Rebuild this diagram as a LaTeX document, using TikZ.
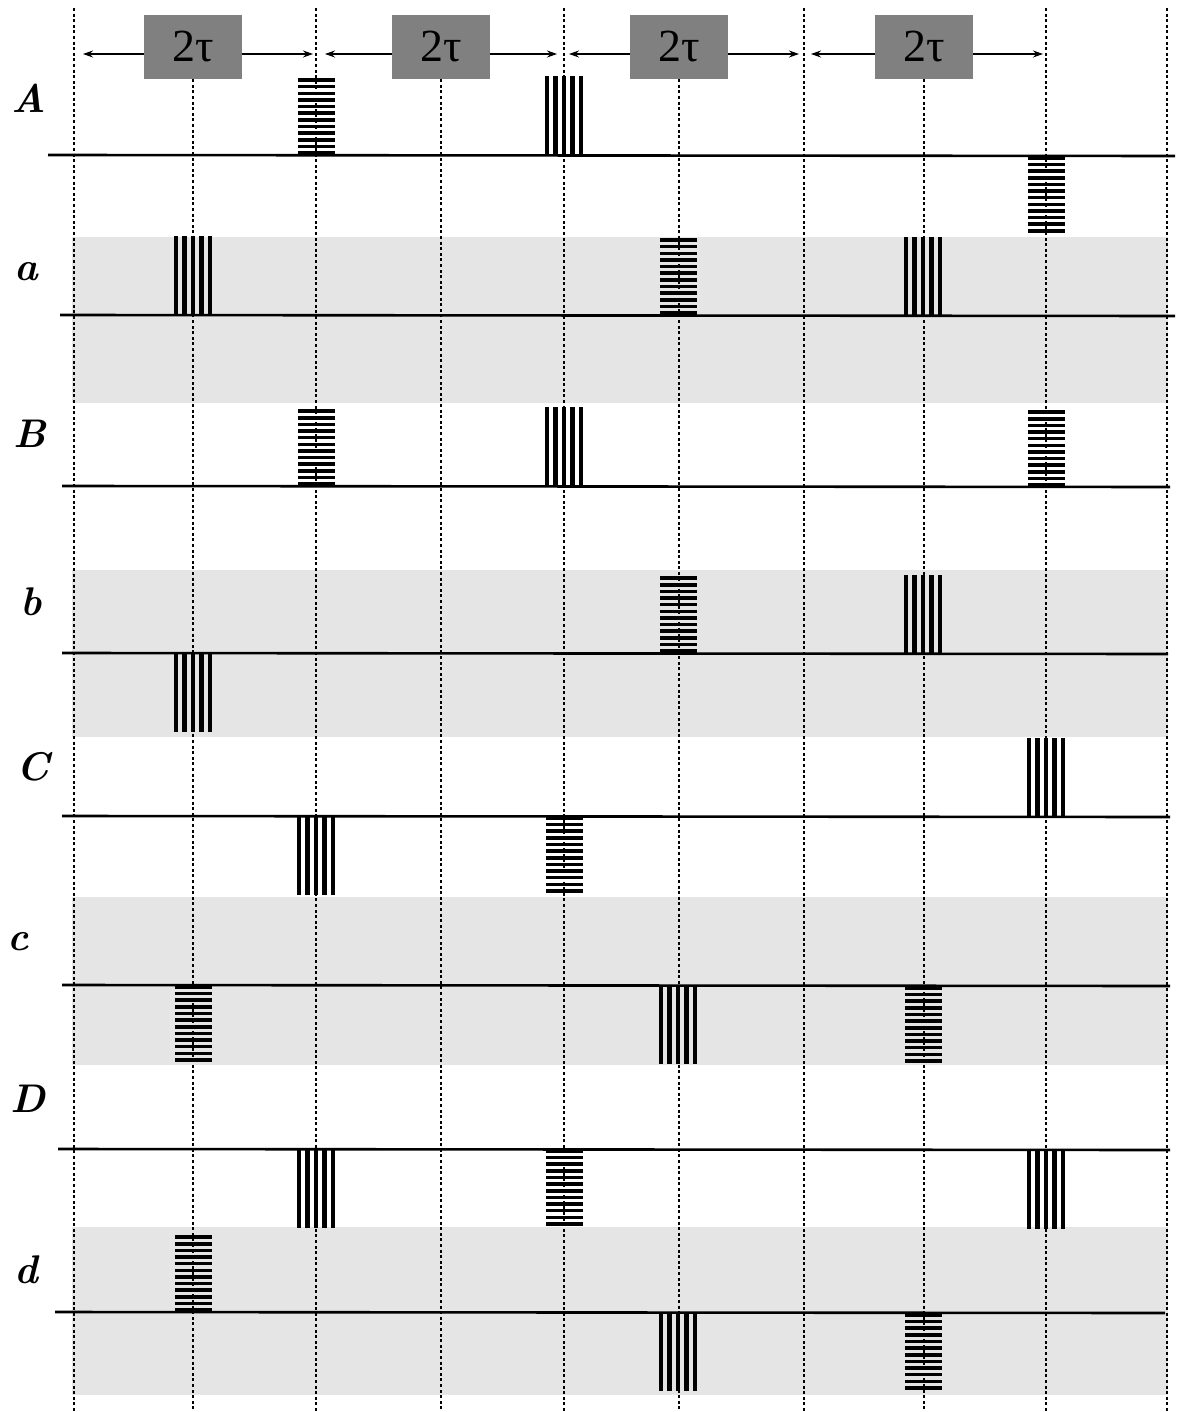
\documentclass[tikz,border=0pt]{standalone}
\usepackage{fontspec}
\newfontfamily\taufont{Liberation Serif}
\usetikzlibrary{arrows.meta}
\begin{document}
\begin{tikzpicture}[
  x=1pt, y=-1pt,
  band/.style={fill=black!10},
  guide/.style={line width=1.9pt, dash pattern=on 3pt off 2.6pt},
  timeline/.style={line width=2.6pt},
  period/.style={line width=1.2pt, -{Stealth[length=10pt,width=7pt]}},
  delay/.style={fill=black!50, minimum width=98pt, minimum height=64pt, inner sep=0pt, font=\fontsize{46}{46}\taufont\selectfont},
  rowlabel/.style={anchor=base, font=\fontsize{40}{40}\selectfont\bfseries\itshape},
  pics/hpulse/.style={code={\foreach \k in {0,...,11} \fill (-18.5,{#1*\k*6.65}) rectangle (18.5,{#1*(\k*6.65+3.6)});}},
  pics/vpulse/.style={code={\foreach \k in {0,...,4} \fill ({-19+\k*8.4},0) rectangle ({-14.6+\k*8.4},{#1*79});}}
]
\useasboundingbox (0,0) rectangle (1180,1412);

\fill[band] (72,237) rectangle (1168,403);
\fill[band] (72,570) rectangle (1168,737);
\fill[band] (72,897) rectangle (1168,1065);
\fill[band] (72,1227) rectangle (1168,1395);

\node[delay] (tau1) at (193,47) {2τ};
\node[delay] (tau2) at (441,47) {2τ};
\node[delay] (tau3) at (679,47) {2τ};
\node[delay] (tau4) at (924,47) {2τ};

\foreach \x in {74,316,564,804,1046,1167}
  \draw[guide] (\x,8) -- (\x,1412);
\foreach \n in {1,...,4}
  \draw[guide] (tau\n.south) -- ++(0,1333);

\coordinate (e1l) at (83,54);
\coordinate (e1r) at (313,54);
\coordinate (e2l) at (325,54);
\coordinate (e2r) at (557,54);
\coordinate (e3l) at (569,54);
\coordinate (e3r) at (799,54);
\coordinate (e4l) at (811,54);
\coordinate (e4r) at (1043,54);
\foreach \n in {1,...,4} {
  \draw[period] (tau\n.west |- e\n l) -- (e\n l);
  \draw[period] (tau\n.east |- e\n r) -- (e\n r);
}

\draw[timeline] (48,155) -- (1175,156);
\draw[timeline] (60,315) -- (1175,316);
\draw[timeline] (62,486) -- (1170,487);
\draw[timeline] (62,653) -- (1168,654);
\draw[timeline] (62,816) -- (1170,817);
\draw[timeline] (62,985) -- (1170,986);
\draw[timeline] (58,1149) -- (1170,1150);
\draw[timeline] (55,1312) -- (1165,1313);

\node[rowlabel] (lA) at (29,113) {A};
\node[rowlabel] (la) at (26,280) {a};
\node[rowlabel] (lB) at (30,447) {B};
\node[rowlabel] (lb) at (31,615) {b};
\node[rowlabel] (lC) at (33,780) {C};
\node[rowlabel] (lc) at (18,950) {c};
\node[rowlabel] (lD) at (28,1112) {D};
\node[rowlabel] (ld) at (26,1283) {d};

\pic at (316,155) {hpulse=-1};
\pic at (564,155) {vpulse=-1};
\pic at (1046,156) {hpulse=1};

\pic at (193,315) {vpulse=-1};
\pic at (678,315) {hpulse=-1};
\pic at (923,316) {vpulse=-1};

\pic at (316,486) {hpulse=-1};
\pic at (564,486) {vpulse=-1};
\pic at (1046,487) {hpulse=-1};

\pic at (678,653) {hpulse=-1};
\pic at (923,654) {vpulse=-1};
\pic at (193,653) {vpulse=1};

\pic at (1046,817) {vpulse=-1};
\pic at (316,816) {vpulse=1};
\pic at (564,816) {hpulse=1};

\pic at (193,985) {hpulse=1};
\pic at (678,985) {vpulse=1};
\pic at (923,986) {hpulse=1};

\pic at (316,1149) {vpulse=1};
\pic at (564,1149) {hpulse=1};
\pic at (1046,1150) {vpulse=1};

\pic at (193,1312) {hpulse=-1};
\pic at (678,1312) {vpulse=1};
\pic at (923,1313) {hpulse=1};
\end{tikzpicture}
\end{document}
